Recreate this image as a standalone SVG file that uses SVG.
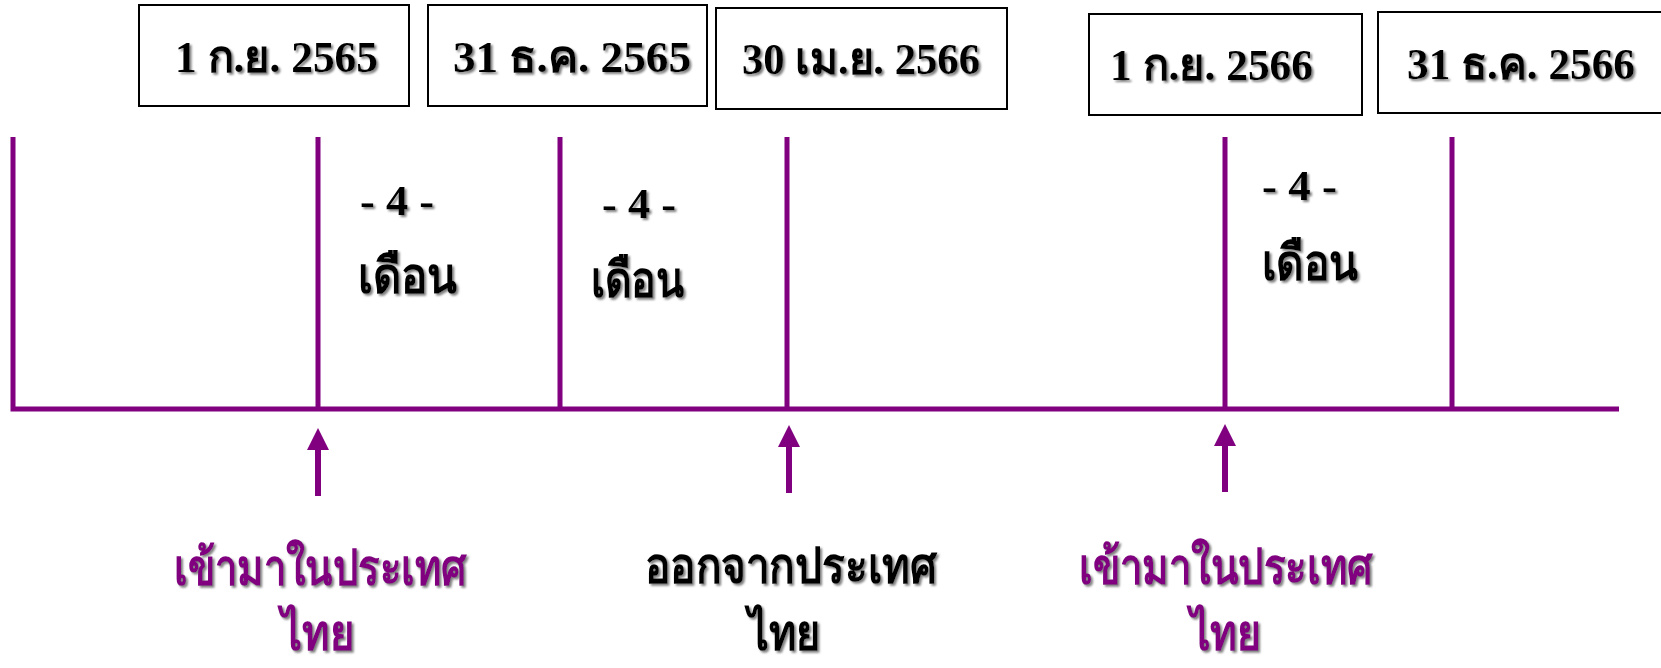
<svg xmlns="http://www.w3.org/2000/svg" width="1661" height="668" viewBox="0 0 1661 668">
<style>
.box{fill:#fff;stroke:#000;stroke-width:2}
.bt{font-family:"Liberation Serif","Noto Sans",serif;font-weight:bold;font-size:45px;fill:#000;filter:url(#sh)}
.mt{font-family:"Liberation Serif","Noto Sans",serif;font-weight:bold;font-size:42px;fill:#000;filter:url(#sh)}
.th{font-family:"Noto Sans","DejaVu Sans",sans-serif;font-weight:bold;font-size:50px;fill:#000;filter:url(#sh)}
.pu{fill:#800080}
.tl{stroke:#800080;stroke-width:5;fill:none}
.ar{stroke:#800080;stroke-width:6;fill:none}
</style>
<defs>
<filter id="sh" x="-10%" y="-20%" width="130%" height="150%">
<feDropShadow dx="2" dy="2" stdDeviation="1.2" flood-color="#7f7f7f" flood-opacity="1"/>
</filter>
<marker id="ah" viewBox="0 0 22 22" refX="0" refY="11" markerWidth="22" markerHeight="22" markerUnits="userSpaceOnUse" orient="auto">
<path d="M0,0 L22,11 L0,22 Z" fill="#800080"/>
</marker>
</defs>

<g id="connectors">
<path class="tl" d="M13,137 V409 H1619"/>
<line class="tl" x1="318" y1="137" x2="318" y2="409"/>
<line class="tl" x1="560" y1="137" x2="560" y2="409"/>
<line class="tl" x1="787" y1="137" x2="787" y2="409"/>
<line class="tl" x1="1225" y1="137" x2="1225" y2="409"/>
<line class="tl" x1="1452" y1="137" x2="1452" y2="409"/>
<line class="ar" x1="318" y1="496" x2="318" y2="450" marker-end="url(#ah)"/>
<line class="ar" x1="789" y1="493" x2="789" y2="447" marker-end="url(#ah)"/>
<line class="ar" x1="1225" y1="492" x2="1225" y2="446" marker-end="url(#ah)"/>
</g>

<g id="date1">
<rect class="box" x="139" y="5" width="270" height="101"/>
<text class="bt" x="175" y="72" textLength="203" lengthAdjust="spacingAndGlyphs">1 ก.ย. 2565</text>
</g>
<g id="date2">
<rect class="box" x="428" y="5" width="279" height="101"/>
<text class="bt" x="453" y="72" textLength="238" lengthAdjust="spacingAndGlyphs">31 ธ.ค. 2565</text>
</g>
<g id="date3">
<rect class="box" x="716" y="8" width="291" height="101"/>
<text class="bt" x="742" y="74" textLength="238" lengthAdjust="spacingAndGlyphs">30 เม.ย. 2566</text>
</g>
<g id="date4">
<rect class="box" x="1089" y="14" width="273" height="101"/>
<text class="bt" x="1110" y="80" textLength="203" lengthAdjust="spacingAndGlyphs">1 ก.ย. 2566</text>
</g>
<g id="date5">
<rect class="box" x="1378" y="12" width="290" height="101"/>
<text class="bt" x="1407" y="79" textLength="228" lengthAdjust="spacingAndGlyphs">31 ธ.ค. 2566</text>
</g>

<g id="period1">
<text class="mt" x="360" y="215" textLength="74" lengthAdjust="spacingAndGlyphs">- 4 -</text>
<text class="th" x="358" y="293" textLength="99" lengthAdjust="spacingAndGlyphs">เดือน</text>
</g>
<g id="period2">
<text class="mt" x="602" y="218" textLength="74" lengthAdjust="spacingAndGlyphs">- 4 -</text>
<text class="th" x="591" y="297" textLength="93" lengthAdjust="spacingAndGlyphs">เดือน</text>
</g>
<g id="period3">
<text class="mt" x="1262" y="200" textLength="75" lengthAdjust="spacingAndGlyphs">- 4 -</text>
<text class="th" x="1262" y="280" textLength="96" lengthAdjust="spacingAndGlyphs">เดือน</text>
</g>

<g id="enter1">
<text class="th pu" x="174" y="585" textLength="293" lengthAdjust="spacingAndGlyphs">เข้ามาในประเทศ</text>
<text class="th pu" x="281" y="650" textLength="73" lengthAdjust="spacingAndGlyphs">ไทย</text>
</g>
<g id="exit1">
<text class="th" x="645" y="583" textLength="292" lengthAdjust="spacingAndGlyphs">ออกจากประเทศ</text>
<text class="th" x="748" y="650" textLength="72" lengthAdjust="spacingAndGlyphs">ไทย</text>
</g>
<g id="enter2">
<text class="th pu" x="1079" y="584" textLength="294" lengthAdjust="spacingAndGlyphs">เข้ามาในประเทศ</text>
<text class="th pu" x="1190" y="650" textLength="71" lengthAdjust="spacingAndGlyphs">ไทย</text>
</g>
</svg>
